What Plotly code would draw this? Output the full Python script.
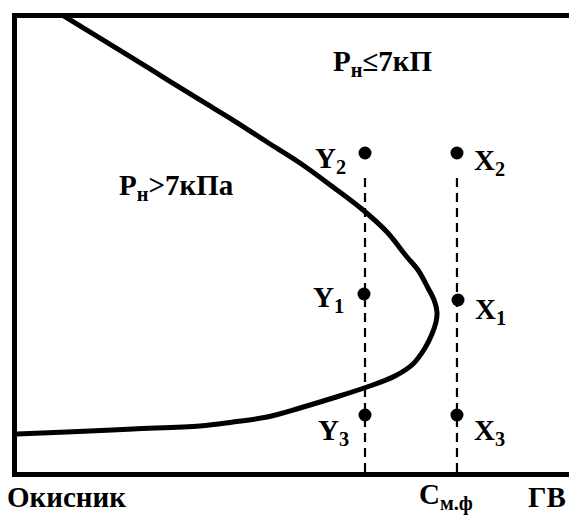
import plotly.graph_objects as go

# boundary curve between the two regions (schematic units 0..100)
curve_x = [8.10, 14.61, 23.42, 32.22, 38.03, 44.01, 49.82, 55.63, 60.92, 65.14, 68.66, 70.60, 72.36, 73.42, 73.94,
           73.77, 73.06, 71.83, 69.72, 66.55, 61.62, 55.63, 49.82, 44.01, 38.03, 32.22, 20.42, 8.80, -0.44]
curve_y = [100.55, 95.59, 88.77, 81.94, 77.53, 72.69, 68.06, 62.78, 57.71, 52.86, 47.36, 44.49, 40.53, 37.89, 35.24,
           33.04, 30.40, 27.31, 23.79, 21.15, 18.72, 16.30, 14.10, 12.11, 11.01, 10.13, 9.47, 8.81, 8.37]

# points on the two vertical sections
pt_labels = ['Y<sub>2</sub>', 'X<sub>2</sub>', 'Y<sub>1</sub>', 'X<sub>1</sub>', 'Y<sub>3</sub>', 'X<sub>3</sub>']
pt_x = [61.27, 77.46, 61.09, 77.64, 61.27, 77.46]
pt_y = [70.26, 70.26, 39.21, 37.89, 12.56, 12.56]
lbl_x = [58.3, 80.1, 57.9, 80.3, 58.8, 80.1]
lbl_y = [68.7, 68.3, 38.1, 35.5, 8.8, 8.8]

sections_x = [61.27, 77.46]
section_top = 66.1

font = dict(family='Liberation Serif', size=29, color='black')

fig = go.Figure()
fig.add_trace(go.Scatter(x=curve_x, y=curve_y, mode='lines', line=dict(color='black', width=5, shape='spline'), cliponaxis=False))
for sx in sections_x:
    fig.add_trace(go.Scatter(x=[sx, sx], y=[0, section_top], mode='lines', line=dict(color='black', width=2.2, dash='9px,6px')))
fig.add_trace(go.Scatter(x=pt_x, y=pt_y, mode='markers', marker=dict(color='black', size=13), cliponaxis=False))

for i in range(len(pt_labels)):
    fig.add_annotation(x=lbl_x[i], y=lbl_y[i], text='<b>' + pt_labels[i] + '</b>', showarrow=False,
                       xanchor='right' if pt_labels[i][0] == 'Y' else 'left', font=font)

fig.add_annotation(x=64.4, y=90.1, text='<b>P<sub>н</sub>≤7кП</b>', showarrow=False, font=font)
fig.add_annotation(x=28.0, y=62.8, text='<b>P<sub>н</sub>>7кПа</b>', showarrow=False, font=font)
fig.add_annotation(x=-0.021, y=-0.055, xref='paper', yref='paper', text='<b>Окисник</b>', showarrow=False,
                   xanchor='left', yanchor='middle', font=font)
fig.add_annotation(x=75.5, y=-0.055, yref='paper', text='<b>C<sub>м.ф</sub></b>', showarrow=False, yanchor='middle', font=font)
fig.add_annotation(x=93.3, y=-0.055, yref='paper', text='<b>ГВ</b>', showarrow=False, yanchor='middle', font=font)

fig.update_layout(width=577, height=520, showlegend=False,
                  margin=dict(l=9, r=0, t=10, b=56),
                  plot_bgcolor='white', paper_bgcolor='white',
                  xaxis=dict(range=[0, 100], showgrid=False, zeroline=False, showticklabels=False,
                             showline=True, linecolor='black', linewidth=5, mirror=True, ticks=''),
                  yaxis=dict(range=[0, 100], showgrid=False, zeroline=False, showticklabels=False,
                             showline=True, linecolor='black', linewidth=5, mirror=False, ticks=''))

fig.write_html("out.html")
